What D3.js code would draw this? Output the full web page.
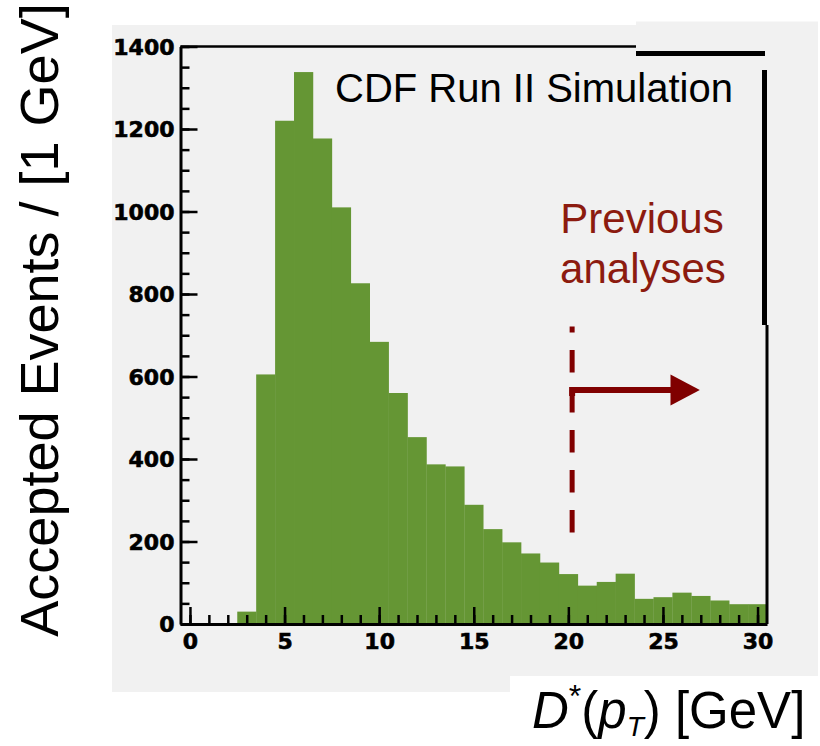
<!DOCTYPE html>
<html>
<head>
<meta charset="utf-8">
<script src="https://cdn.jsdelivr.net/npm/d3@7"></script>
<style>
  body { margin: 0; background: #fff; }
  svg { display: block; }
  .tick text { font-family: "DejaVu Sans", sans-serif; font-weight: bold; font-size: 22px; fill: #000; }
</style>
</head>
<body>
<svg id="chart" width="820" height="746"></svg>
<script>
// bin centres (1 GeV bins) and accepted events per bin
var binCenters = [0, 1, 2, 3, 4, 5, 6, 7, 8, 9, 10, 11, 12, 13, 14, 15,
                  16, 17, 18, 19, 20, 21, 22, 23, 24, 25, 26, 27, 28, 29, 30];
var binCounts = [0, 0, 0, 30, 605, 1220, 1338, 1177, 1010, 826, 684, 560, 453, 387, 382, 289,
                 230, 198, 171, 149, 121, 93, 102, 122, 61, 65, 76, 68, 57, 48, 48];
var xTicks = [0, 5, 10, 15, 20, 25, 30];
var yTicks = [0, 200, 400, 600, 800, 1000, 1200, 1400];

var binWidth = 1;
var cutPt = 20.2;       // previous analyses cut
var arrowY = 567;

var svg = d3.select('#chart');

var x = d3.scaleLinear().domain([-0.5, 30.5]).range([180.5, 767]);
var y = d3.scaleLinear().domain([0, 1400]).range([624, 46.5]);

// backgrounds
svg.append('rect').attr('x', 112).attr('y', 25).attr('width', 706).attr('height', 667).attr('fill', '#f1f1f1');
svg.append('rect').attr('x', 636).attr('y', 21.5).attr('width', 182).attr('height', 10).attr('fill', '#f1f1f1');
svg.append('rect').attr('x', 510).attr('y', 676).attr('width', 310).attr('height', 70).attr('fill', '#fff');

// histogram
svg.append('g').selectAll('rect')
    .data(binCenters)
    .enter().append('rect')
    .attr('x', function(d) { return x(d - binWidth / 2); })
    .attr('width', function(d) { return x(d + binWidth / 2) - x(d - binWidth / 2) + 0.3; })
    .attr('y', function(d, i) { return y(binCounts[i]); })
    .attr('height', function(d, i) { return y(0) - y(binCounts[i]); })
    .attr('fill', '#659634');

// minor ticks
var minorX = svg.append('g').attr('transform', 'translate(0,' + y(0) + ')')
    .call(d3.axisBottom(x).tickValues(d3.range(0, 31, 1)).tickSize(-9).tickFormat(''));
var minorY = svg.append('g').attr('transform', 'translate(' + x(-0.5) + ',0)')
    .call(d3.axisLeft(y).tickValues(d3.range(0, 1401, 50)).tickSize(-9).tickFormat(''));

// major ticks + labels
var xAxis = svg.append('g').attr('transform', 'translate(0,' + y(0) + ')')
    .call(d3.axisBottom(x).tickValues(xTicks).tickSize(-17).tickSizeOuter(0).tickPadding(9)
        .tickFormat(d3.format('d')));
var yAxis = svg.append('g').attr('transform', 'translate(' + x(-0.5) + ',0)')
    .call(d3.axisLeft(y).tickValues(yTicks).tickSize(-17).tickSizeOuter(0).tickPadding(6)
        .tickFormat(d3.format('d')));

[minorX, minorY].forEach(function(g) { g.select('.domain').remove(); });
svg.selectAll('.tick line').attr('stroke', '#000').attr('stroke-width', 2.5);
xAxis.select('.domain').attr('stroke', '#000').attr('stroke-width', 3);
yAxis.select('.domain').attr('stroke', '#000').attr('stroke-width', 3);
yAxis.selectAll('.tick text').attr('dy', '0.36em');
svg.selectAll('.tick text').attr('stroke', '#000').attr('stroke-width', 0.6);

// frame (top and right)
var frame = svg.append('g').attr('stroke', '#000').attr('fill', 'none');
frame.append('line').attr('x1', x(-0.5)).attr('x2', 636).attr('y1', y(1400)).attr('y2', y(1400)).attr('stroke-width', 2.5);
frame.append('line').attr('x1', 636).attr('x2', 765).attr('y1', 53.5).attr('y2', 53.5).attr('stroke-width', 5);
frame.append('line').attr('x1', 764.5).attr('x2', 764.5).attr('y1', 70).attr('y2', 325).attr('stroke-width', 5);
frame.append('line').attr('x1', x(30.5)).attr('x2', x(30.5)).attr('y1', 325).attr('y2', y(0)).attr('stroke-width', 3);

// cut line and arrow
var red = '#800000';
svg.append('line')
    .attr('x1', x(cutPt)).attr('x2', x(cutPt))
    .attr('y1', y(721)).attr('y2', y(220))
    .attr('stroke', red).attr('stroke-width', 5)
    .attr('stroke-dasharray', '22.7,17.3').attr('stroke-dashoffset', 16.7);
svg.append('path')
    .attr('d', 'M' + x(cutPt) + ',' + (y(arrowY) + 6) + 'V' + y(arrowY) + 'H' + (x(25.4) + 1))
    .attr('stroke', red).attr('stroke-width', 6).attr('fill', 'none');
svg.append('path')
    .attr('d', 'M' + x(25.4) + ',' + (y(arrowY) - 15.5) + 'L' + x(26.95) + ',' + y(arrowY) +
               'L' + x(25.4) + ',' + (y(arrowY) + 15.5) + 'Z')
    .attr('fill', red);

// texts
svg.append('text').attr('x', 335).attr('y', 101.5)
    .attr('font-family', 'Liberation Sans, Arial, sans-serif').attr('font-size', 40)
    .text('CDF Run II Simulation');

var prev = svg.append('text').attr('text-anchor', 'middle')
    .attr('font-family', 'Liberation Sans, Arial, sans-serif').attr('font-size', 42).attr('fill', '#8c1b0f');
prev.append('tspan').attr('x', 642).attr('y', 233).text('Previous');
prev.append('tspan').attr('x', 643).attr('y', 283).text('analyses');

svg.append('text')
    .attr('transform', 'translate(58,320) rotate(-90)')
    .attr('text-anchor', 'middle')
    .attr('font-family', 'Liberation Sans, Arial, sans-serif').attr('font-size', 54)
    .text('Accepted Events / [1 GeV]');

var xt = svg.append('text').attr('x', 532).attr('y', 728)
    .attr('font-family', 'Liberation Sans, Arial, sans-serif').attr('font-size', 51);
xt.append('tspan').attr('font-style', 'italic').text('D');
xt.append('tspan').attr('dy', -21).attr('font-size', 32).text('*');
xt.append('tspan').attr('dy', 21).text('(');
xt.append('tspan').attr('font-style', 'italic').text('p');
xt.append('tspan').attr('dy', 8).attr('font-size', 28).attr('font-style', 'italic').text('T');
xt.append('tspan').attr('dy', -8).text(') [GeV]');
</script>
</body>
</html>
